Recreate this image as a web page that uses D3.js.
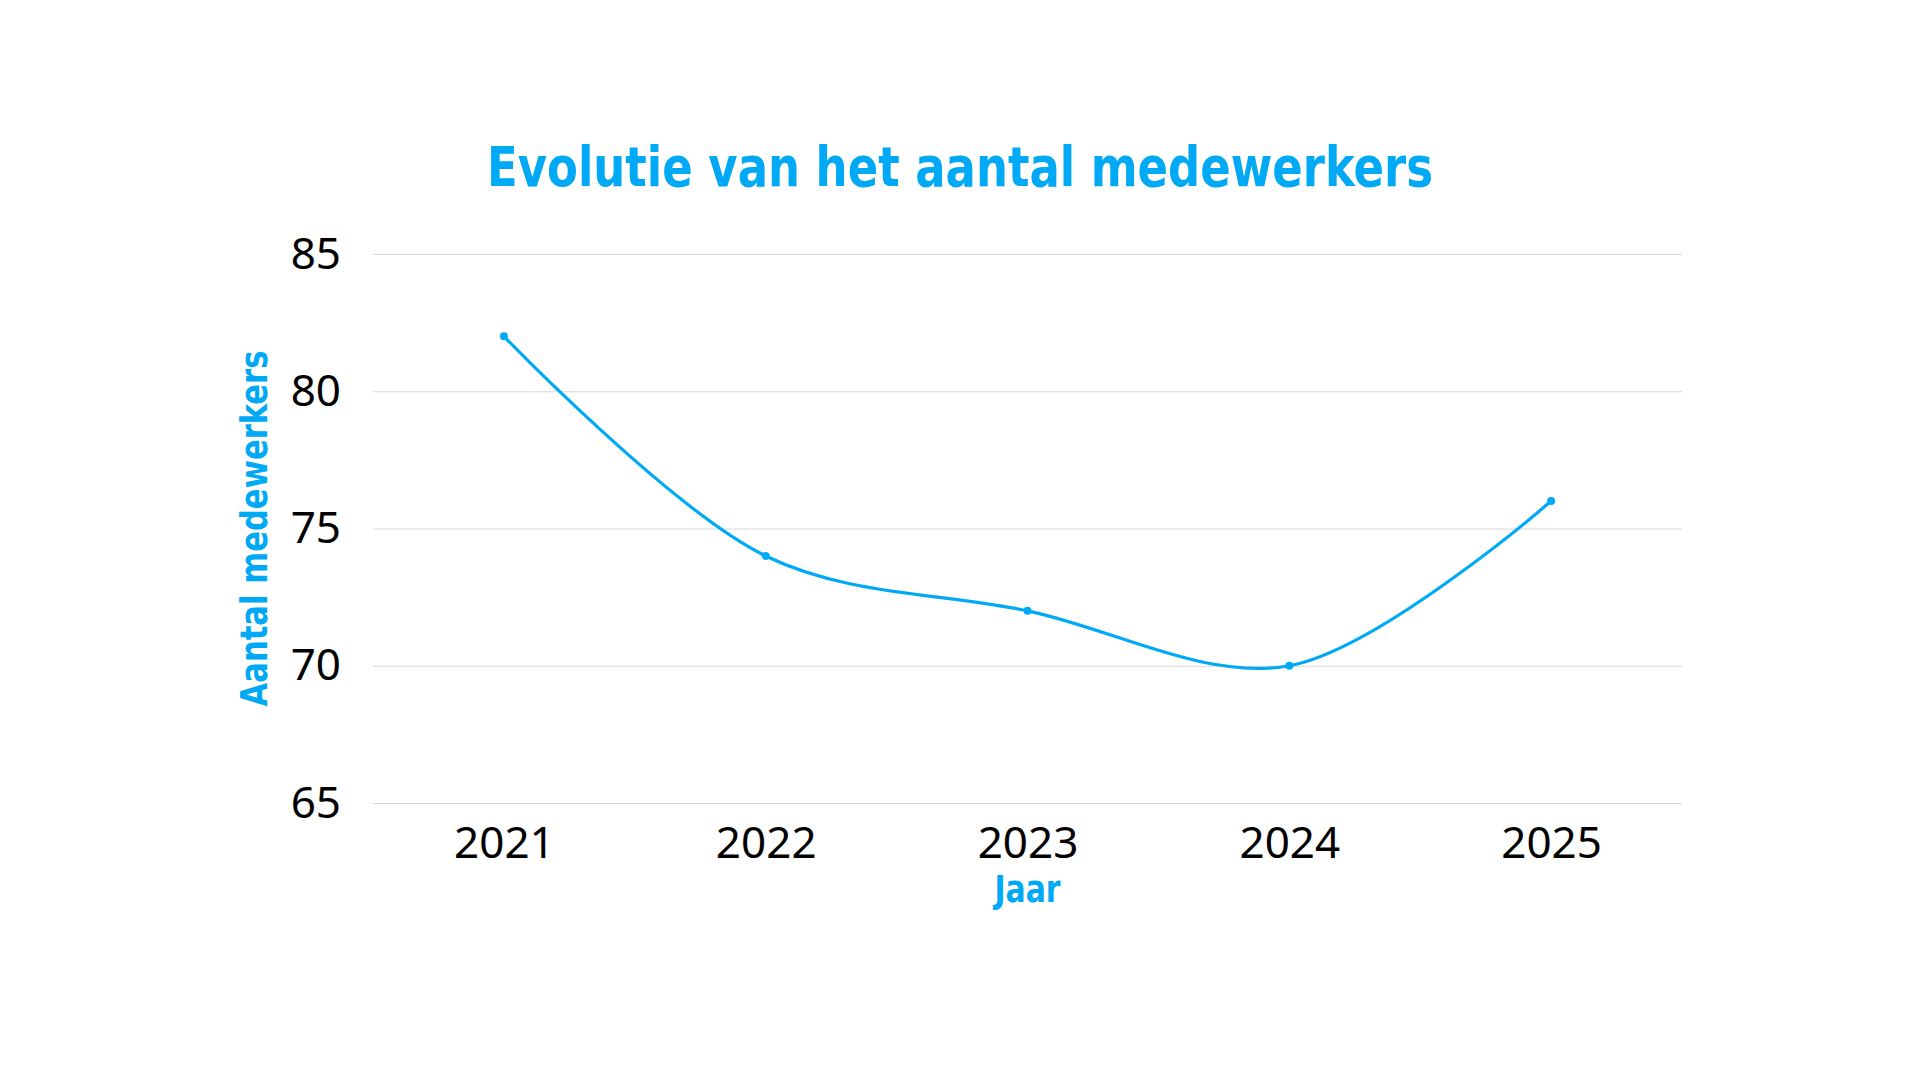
<!DOCTYPE html>
<html>
<head>
<meta charset="utf-8">
<script src="https://cdn.jsdelivr.net/npm/d3@7"></script>
<style>
  html, body { margin: 0; padding: 0; background: #ffffff; }
  svg { display: block; }
</style>
</head>
<body>
<svg id="chart" width="1920" height="1080"></svg>
<script>
const years = ["2021", "2022", "2023", "2024", "2025"];
const employees = [82, 74, 72, 70, 76];
const yTicks = [65, 70, 75, 80, 85];
const titleText = "Evolutie van het aantal medewerkers";
const xAxisTitle = "Jaar";
const yAxisTitle = "Aantal medewerkers";

const blue = "#00a9f5";
const svg = d3.select("#chart");
const margin = { left: 373, right: 238, top: 254, bottom: 277 };
const W = 1920, H = 1080;
const innerW = W - margin.left - margin.right;
const innerH = H - margin.top - margin.bottom;

const x = d3.scalePoint().domain(years).range([0, innerW]).padding(0.5);
const y = d3.scaleLinear().domain([65, 85]).range([innerH, 0]);

const g = svg.append("g").attr("transform", `translate(${margin.left},${margin.top})`);

// gridlines
const yAxis = d3.axisLeft(y).tickValues(yTicks).tickSize(-innerW).tickPadding(32).tickFormat(d3.format("d"));
const ya = g.append("g").call(yAxis);
ya.select(".domain").remove();
ya.selectAll(".tick line").attr("stroke", "#d9d9d9").attr("stroke-width", 1.2);
ya.selectAll(".tick text").attr("fill", "#000").style("font-family", "'Noto Sans', sans-serif").style("font-size", "44px");

const xAxis = d3.axisBottom(x).tickSize(0).tickPadding(24);
const xa = g.append("g").attr("transform", `translate(0,${innerH})`).call(xAxis);
xa.select(".domain").remove();
xa.selectAll(".tick text").attr("fill", "#000").style("font-family", "'Noto Sans', sans-serif").style("font-size", "44px");

// line
const line = d3.line().x((d, i) => x(years[i])).y(d => y(d)).curve(d3.curveCatmullRom.alpha(0.5));
g.append("path").datum(employees).attr("d", line).attr("fill", "none").attr("stroke", blue).attr("stroke-width", 3.2);

g.selectAll("circle.pt").data(employees).enter().append("circle")
  .attr("class", "pt").attr("cx", (d, i) => x(years[i])).attr("cy", d => y(d)).attr("r", 4).attr("fill", blue);

// title
svg.append("text").attr("x", 960).attr("y", 186).attr("text-anchor", "middle")
  .attr("fill", blue).style("font-family", "'DejaVu Sans Condensed', 'DejaVu Sans', sans-serif")
  .style("font-weight", "bold").style("font-size", "55px")
  .attr("textLength", 946).attr("lengthAdjust", "spacingAndGlyphs").text(titleText);

// x axis title
svg.append("text").attr("x", margin.left + innerW / 2).attr("y", 902).attr("text-anchor", "middle")
  .attr("fill", blue).style("font-family", "'DejaVu Sans Condensed', 'DejaVu Sans', sans-serif")
  .style("font-weight", "bold").style("font-size", "38px")
  .attr("textLength", 66).attr("lengthAdjust", "spacingAndGlyphs").text(xAxisTitle);

// y axis title
svg.append("text").attr("transform", `translate(267,${margin.top + innerH / 2}) rotate(-90)`).attr("text-anchor", "middle")
  .attr("fill", blue).style("font-family", "'DejaVu Sans Condensed', 'DejaVu Sans', sans-serif")
  .style("font-weight", "bold").style("font-size", "38px")
  .attr("textLength", 356).attr("lengthAdjust", "spacingAndGlyphs").text(yAxisTitle);
</script>
</body>
</html>
